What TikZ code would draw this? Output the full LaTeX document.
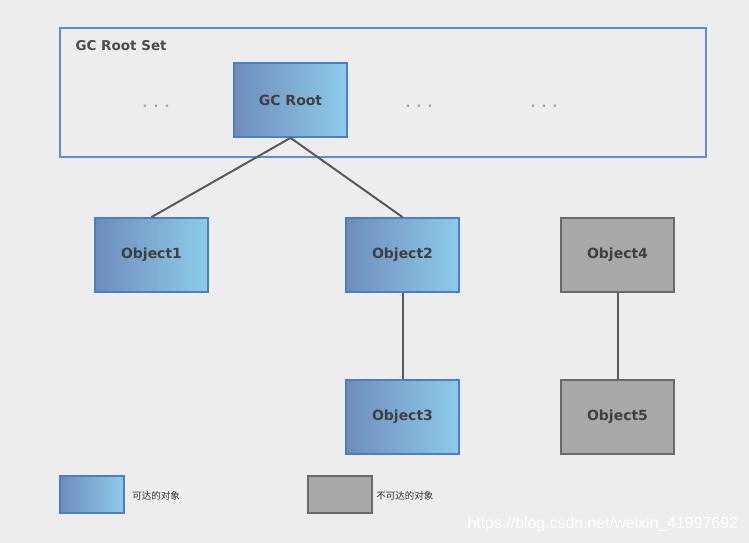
\documentclass[tikz,border=0pt]{standalone}
\usepackage{fontspec}
\setmainfont{DejaVu Sans}
\newfontfamily\cjk{Noto Sans CJK SC}
\newfontfamily\wmfont{Liberation Sans}
\usetikzlibrary{positioning}

\definecolor{bgc}{HTML}{EDEDED}
\definecolor{setblue}{HTML}{5B8ED6}
\definecolor{objblue}{HTML}{4A7FC8}
\definecolor{shadeL}{HTML}{6E8CBD}
\definecolor{shadeR}{HTML}{8DCBE9}
\definecolor{deadfill}{HTML}{A8A8A8}
\definecolor{deadline}{HTML}{6A6A6A}
\definecolor{edgec}{HTML}{5A5A5A}

\begin{document}
\begin{tikzpicture}[x=1pt, y=-1pt,
  font=\bfseries\fontsize{14}{16}\selectfont, node distance=86pt,
  box/.style={line width=1.8pt, minimum width=113pt, minimum height=74pt, text=black!75},
  live/.style={box, draw=objblue, left color=shadeL, right color=shadeR},
  dead/.style={box, draw=deadline, fill=deadfill},
  key/.style={minimum width=64pt, minimum height=37pt},
  dots/.style={text=black!35, font=\bfseries\fontsize{13}{15}\selectfont},
  ref/.style={draw=edgec, line width=2pt}]
\fill[bgc] (0,0) rectangle (749,543);
\useasboundingbox (0,0) rectangle (749,543);
% root set
\node[draw=setblue, line width=2.2pt, minimum width=646pt, minimum height=129pt] (set) at (383,92.5) {};
\node[anchor=west, text=black!70, font=\bfseries\fontsize{13.5}{15}\selectfont] (setlbl) at (72,45.5) {GC Root Set};
\node[live] (root) at (290.5,100) {GC Root};
\node[dots] (d1) at (156,106) {. . .};
\node[dots] (d2) at (419,106) {. . .};
\node[dots] (d3) at (544,106) {. . .};
% objects
\node[live] (obj1) at (151.5,255) {Object1};
\node[live] (obj2) at (402.5,255) {Object2};
\node[live, below=of obj2] (obj3) {Object3};
\node[dead] (obj4) at (617.5,255) {Object4};
\node[dead, below=of obj4] (obj5) {Object5};
\draw[ref] (root.south) -- (obj1.north);
\draw[ref] (root.south) -- (obj2.north);
\draw[ref] (obj2) -- (obj3);
\draw[ref] (obj4) -- (obj5);
% legend
\node[live, key] (keylive) at (92,494.5) {};
\node[right=4pt of keylive, yshift=-1.5pt, font=\cjk\fontsize{9.5}{11}\selectfont, text=black!80] (keylivetxt) {可达的对象};
\node[dead, key] (keydead) at (340,494.5) {};
\node[right=0pt of keydead, yshift=-1.5pt, font=\cjk\fontsize{9.5}{11}\selectfont, text=black!80] (keydeadtxt) {不可达的对象};
\node[anchor=west, text=white, font=\wmfont\fontsize{15.9}{17}\selectfont] (wm) at (464,524) {https://blog.csdn.net/weixin\_41997692};
\end{tikzpicture}
\end{document}
